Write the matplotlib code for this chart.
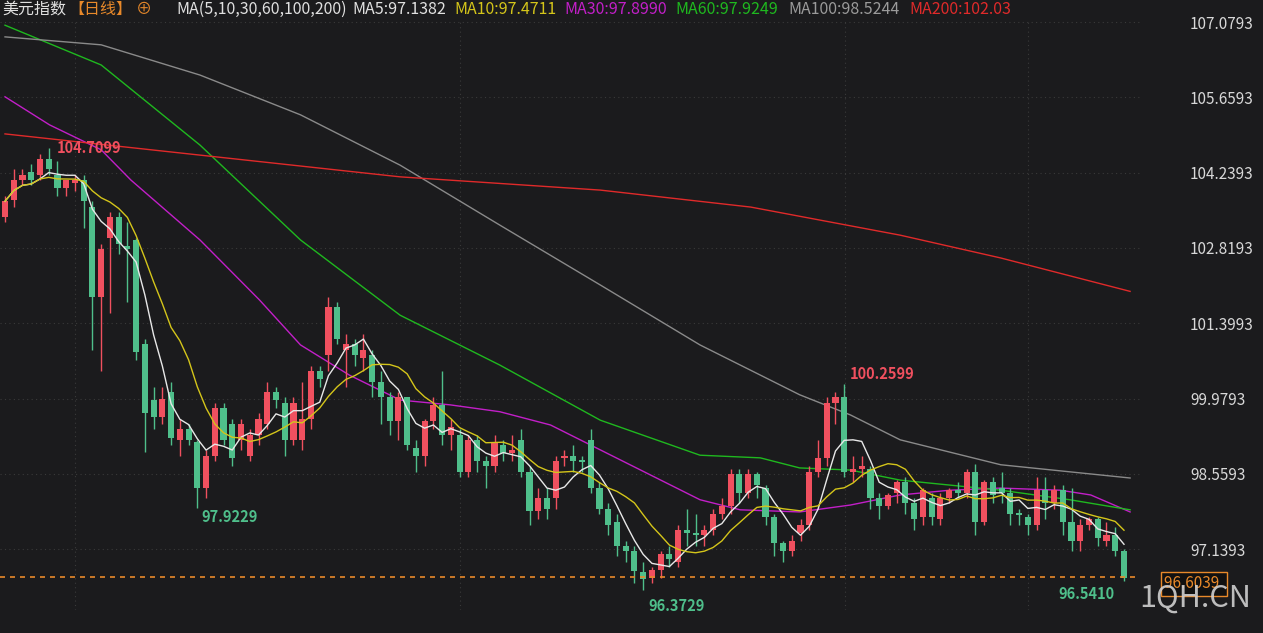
import matplotlib
matplotlib.use('Agg')
import matplotlib.pyplot as plt
import pandas as pd

plt.rcParams['font.family'] = ['Noto Sans CJK SC', 'DejaVu Sans']

opens = [103.4, 103.72, 104.1, 104.25, 104.2, 104.5, 104.2, 103.95, 104.05, 104.1,
         103.6, 101.9, 103.0, 103.4, 102.85, 102.96, 101.0, 99.95, 99.63, 100.1,
         99.2, 99.4, 99.16, 98.29, 98.9, 99.8, 99.5, 99.2, 98.9, 99.3,
         99.5, 100.1, 99.9, 99.2, 99.2, 99.6, 100.5, 100.8, 101.7, 100.9,
         101.0, 100.75, 100.8, 100.3, 100.0, 99.55, 100.0, 99.05, 98.9, 99.55,
         99.85, 99.3, 99.3, 98.6, 99.2, 98.8, 98.7, 99.1, 98.95, 99.2,
         98.6, 97.85, 98.1, 98.1, 98.85, 98.9, 98.82, 99.2, 98.3, 97.9,
         97.65, 97.2, 97.1, 96.7, 96.6, 96.75, 97.05, 96.9, 97.5, 97.45,
         97.4, 97.5, 97.8, 97.95, 98.55, 98.2, 98.55, 98.3, 97.75, 97.25,
         97.1, 97.45, 97.6, 98.6, 98.85, 99.9, 100.0, 98.6, 98.65, 98.65,
         98.1, 97.95, 98.2, 98.4, 98.0, 97.75, 98.1, 97.7, 98.1, 98.25,
         98.2, 98.6, 97.65, 98.4, 98.3, 98.2, 97.82, 97.75, 97.6, 98.25,
         98.0, 98.25, 97.65, 97.3, 97.6, 97.7, 97.3, 97.4, 97.1]
closes = [103.7, 104.1, 104.2, 104.1, 104.5, 104.3, 103.95, 104.1, 104.1, 103.7,
          101.9, 102.8, 103.4, 102.9, 102.8, 100.86, 99.7, 99.63, 99.97, 99.24,
          99.4, 99.2, 98.29, 98.9, 99.8, 99.2, 98.85, 99.5, 99.3, 99.6,
          100.1, 99.95, 99.2, 99.9, 99.6, 100.5, 100.35, 101.7, 101.1, 101.0,
          100.8, 100.9, 100.3, 100.0, 99.55, 100.0, 99.1, 98.9, 99.55, 99.85,
          99.3, 99.45, 98.6, 99.2, 98.8, 98.7, 99.15, 98.95, 99.0, 98.6,
          97.85, 98.1, 97.9, 98.8, 98.9, 98.8, 98.78, 98.3, 97.9, 97.6,
          97.2, 97.1, 96.72, 96.58, 96.75, 97.05, 96.95, 97.5, 97.45, 97.4,
          97.5, 97.8, 97.95, 98.55, 98.2, 98.55, 98.35, 97.75, 97.25, 97.1,
          97.3, 97.6, 98.6, 98.85, 99.9, 100.0, 98.6, 98.65, 98.7, 98.1,
          97.95, 98.15, 98.4, 98.0, 97.7, 98.25, 97.75, 98.1, 98.25, 98.2,
          98.6, 97.65, 98.4, 98.15, 98.2, 97.8, 97.78, 97.6, 98.25, 98.0,
          98.25, 97.65, 97.3, 97.6, 97.7, 97.35, 97.4, 97.1, 96.6]
highs = [103.8, 104.3, 104.3, 104.4, 104.6, 104.71, 104.45, 104.1, 104.2, 104.2,
         103.7, 102.9, 103.5, 103.5, 103.3, 103.0, 101.1, 100.2, 100.2, 100.3,
         99.6, 99.5, 99.2, 99.0, 99.9, 99.9, 99.6, 99.6, 99.4, 99.7,
         100.3, 100.2, 100.0, 100.0, 100.3, 100.6, 100.6, 101.9, 101.8, 101.2,
         101.1, 101.2, 100.9, 100.5, 100.1, 100.1, 100.0, 99.2, 99.6, 100.0,
         100.5, 99.6, 99.4, 99.3, 99.3, 98.9, 99.3, 99.2, 99.3, 99.4,
         98.7, 98.3, 98.3, 98.9, 99.0, 99.1, 98.9, 99.4, 98.4, 98.0,
         97.8, 97.3, 97.2, 96.9, 96.8, 97.1, 97.2, 97.6, 97.9, 97.8,
         97.6, 97.9, 98.1, 98.65, 98.65, 98.65, 98.6, 98.35, 97.8, 97.3,
         97.4, 97.7, 98.7, 99.2, 100.0, 100.1, 100.26, 98.9, 98.9, 98.7,
         98.2, 98.2, 98.45, 98.5, 98.1, 98.3, 98.2, 98.2, 98.3, 98.4,
         98.65, 98.75, 98.45, 98.5, 98.6, 98.3, 97.9, 97.8, 98.5, 98.5,
         98.35, 98.35, 98.3, 97.7, 97.75, 97.75, 97.65, 97.55, 97.15]
lows = [103.3, 103.6, 104.0, 104.0, 104.1, 104.2, 103.8, 103.8, 103.9, 103.2,
        100.9, 100.5, 101.6, 102.7, 101.8, 100.7, 98.97, 99.4, 99.5, 99.1,
        98.9, 99.1, 97.92, 98.1, 98.8, 99.1, 98.7, 99.0, 98.8, 99.1,
        99.4, 99.8, 98.9, 99.1, 99.0, 99.4, 100.2, 100.5, 101.0, 100.2,
        100.6, 100.5, 100.0, 99.5, 99.3, 99.2, 99.0, 98.6, 98.7, 99.4,
        99.1, 99.0, 98.5, 98.5, 98.6, 98.3, 98.6, 98.8, 98.8, 98.5,
        97.6, 97.7, 97.7, 97.9, 98.7, 98.6, 98.6, 98.2, 97.8, 97.4,
        97.0, 96.9, 96.5, 96.37, 96.5, 96.6, 96.8, 96.8, 97.2, 97.2,
        97.2, 97.4, 97.7, 97.8, 98.0, 98.1, 98.1, 97.6, 97.0, 96.9,
        97.0, 97.3, 97.5, 98.5, 98.7, 99.5, 98.5, 98.4, 98.5, 97.9,
        97.7, 97.9, 98.0, 97.8, 97.5, 97.6, 97.6, 97.6, 98.0, 98.1,
        98.1, 97.4, 97.6, 98.0, 98.0, 97.6, 97.6, 97.4, 97.5, 97.7,
        97.9, 97.4, 97.1, 97.1, 97.5, 97.2, 97.2, 97.0, 96.54]

# longer moving averages (candle index, value)
ma30_x = [0, 5.1, 11.0, 14.4, 22.3, 29.1, 33.8, 39.4, 45.2, 50.9, 56.6, 62.4, 68.1, 73.8, 79.5, 84.1, 90.9, 96.7, 102.4, 108.1, 113.9, 120.7, 124.2, 128.7]
ma30_y = [105.67, 105.14, 104.67, 104.1, 102.97, 101.84, 100.99, 100.42, 99.95, 99.86, 99.73, 99.48, 99.01, 98.54, 98.07, 97.88, 97.84, 97.97, 98.16, 98.25, 98.29, 98.25, 98.16, 97.84]
ma60_x = [0, 11.0, 22.3, 33.8, 45.2, 56.6, 68.1, 79.5, 86.4, 90.9, 96.7, 102.4, 113.9, 121.8, 128.7]
ma60_y = [107.02, 106.27, 104.76, 102.97, 101.55, 100.61, 99.57, 98.91, 98.86, 98.67, 98.63, 98.44, 98.25, 98.07, 97.88]
ma100_x = [0, 11.0, 22.3, 33.8, 45.2, 56.6, 68.1, 79.5, 90.9, 96.7, 102.4, 113.9, 128.7]
ma100_y = [106.8, 106.65, 106.08, 105.33, 104.38, 103.25, 102.12, 100.99, 100.05, 99.67, 99.2, 98.73, 98.48]
ma200_x = [0, 22.3, 45.2, 68.1, 85.3, 102.4, 113.9, 128.7]
ma200_y = [104.97, 104.57, 104.16, 103.91, 103.59, 103.06, 102.63, 102.0]

yticks = [107.0793, 105.6593, 104.2393, 102.8193, 101.3993, 99.9793, 98.5593, 97.1393]
last_price = 96.6039

bg = '#1b1b1d'
up_c = '#f0505f'
dn_c = '#4fbf8b'

fig = plt.figure(figsize=(12.63, 6.33), dpi=100, facecolor=bg)
ax = fig.add_axes([0, 0.0363, 0.9026, 0.932], facecolor=bg)

n = len(closes)
idx = list(range(n))
for i in idx:
    o, c = opens[i], closes[i]
    col = up_c if c >= o else dn_c
    ax.vlines(i, lows[i], highs[i], color=col, lw=1, zorder=3)
    ax.bar(i, max(abs(c - o), 0.02), bottom=min(o, c), width=0.7, color=col, zorder=4)

s = pd.Series(closes)
ax.plot(idx, s.rolling(5, min_periods=1).mean(), color='#e8e8e8', lw=1, zorder=5)
ax.plot(idx, s.rolling(10, min_periods=1).mean(), color='#d4c51a', lw=1, zorder=5)
ax.plot(ma30_x, ma30_y, color='#c21fc8', lw=1, zorder=2)
ax.plot(ma60_x, ma60_y, color='#1fb81f', lw=1, zorder=2)
ax.plot(ma100_x, ma100_y, color='#8a8a8a', lw=1, zorder=2)
ax.plot(ma200_x, ma200_y, color='#e02a2a', lw=1, zorder=2)

ax.axhline(last_price, color='#e8892a', lw=1.2, ls=(0, (3, 3)), zorder=6)

step = 1119 / (n - 1)
ax.set_xlim(-5 / step, (1140 - 5) / step)
ax.set_ylim(95.99, 107.117)
ax.set_yticks(yticks)
ax.set_yticklabels([f'{t:.4f}' for t in yticks])
for t in yticks:
    ax.axhline(t, color='#3a3a3a', lw=0.8, ls=(0, (1, 3)), zorder=1)
for gx in [75, 460, 845, 1028]:
    ax.axvline((gx - 5) / step, color='#3a3a3a', lw=0.8, ls=(0, (1, 3)), zorder=1)
ax.yaxis.tick_right()
ax.tick_params(axis='y', length=0, pad=36, labelsize=11, labelcolor='#d8d8d8')
ax.set_xticks([])
for sp in ax.spines.values():
    sp.set_visible(False)

# extreme labels
ax.text(5.9, 104.71, '104.7099', color=up_c, fontsize=10.5, va='center', fontweight='bold')
ax.text(22.5, 97.75, '97.9229', color=dn_c, fontsize=10.5, va='center', fontweight='bold')
ax.text(73.6, 96.07, '96.3729', color=dn_c, fontsize=10.5, va='center', fontweight='bold')
ax.text(96.6, 100.45, '100.2599', color=up_c, fontsize=10.5, va='center', fontweight='bold')
ax.text(120.5, 96.3, '96.5410', color=dn_c, fontsize=10.5, va='center', fontweight='bold')

# right-hand price box and watermark
fig.text(0.922, 0.078, '96.6039 ', color='#e8892a', fontsize=11, va='center',
         bbox=dict(facecolor='#111111', edgecolor='#e8892a', pad=2.5))
fig.text(0.902, 0.055, '1QH.CN', color='#d0d0d0', fontsize=22, va='center', alpha=0.9)

# header legend, laid out left to right
items = [('美元指数', '#e0e0e0', 2), ('【日线】', '#e8892a', 4), ('⊕', '#e8892a', 24),
         ('MA(5,10,30,60,100,200)', '#e0e0e0', 6), ('MA5:97.1382', '#e0e0e0', 8),
         ('MA10:97.4711', '#d4c51a', 8), ('MA30:97.8990', '#c21fc8', 8),
         ('MA60:97.9249', '#1fb81f', 10), ('MA100:98.5244', '#9a9a9a', 10), ('MA200:102.03', '#e02a2a', 0)]
renderer = fig.canvas.get_renderer()
x = 2
for txt, col, gap in items:
    t = fig.text(x / 1263, 1 - 9 / 633, txt, color=col, fontsize=11.5, va='center')
    x += t.get_window_extent(renderer).width + gap

fig.savefig('out.png', dpi=100, facecolor=bg)
